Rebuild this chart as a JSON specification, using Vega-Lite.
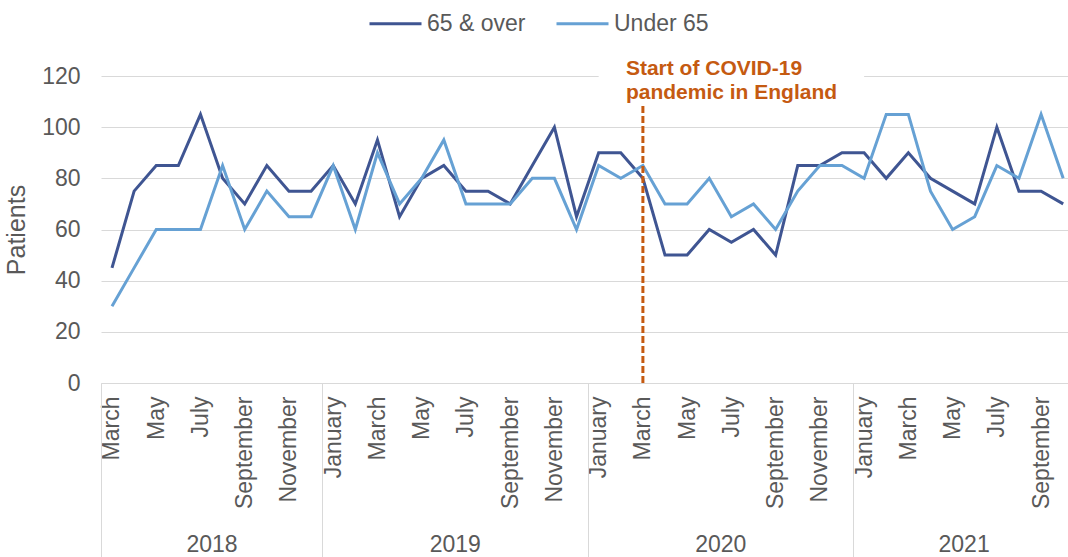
{
  "$schema": "https://vega.github.io/schema/vega-lite/v6.json",
  "width": 967,
  "height": 307,
  "autosize": {"type": "none"},
  "padding": {"left": 101, "top": 76, "right": 0, "bottom": 174},
  "background": "white",
  "config": {
    "font": "Liberation Sans",
    "view": {"stroke": null}
  },
  "data": {
    "values": [
      {"month": "2018-03", "series": "65 & over", "patients": 45},
      {"month": "2018-04", "series": "65 & over", "patients": 75},
      {"month": "2018-05", "series": "65 & over", "patients": 85},
      {"month": "2018-06", "series": "65 & over", "patients": 85},
      {"month": "2018-07", "series": "65 & over", "patients": 105},
      {"month": "2018-08", "series": "65 & over", "patients": 80},
      {"month": "2018-09", "series": "65 & over", "patients": 70},
      {"month": "2018-10", "series": "65 & over", "patients": 85},
      {"month": "2018-11", "series": "65 & over", "patients": 75},
      {"month": "2018-12", "series": "65 & over", "patients": 75},
      {"month": "2019-01", "series": "65 & over", "patients": 85},
      {"month": "2019-02", "series": "65 & over", "patients": 70},
      {"month": "2019-03", "series": "65 & over", "patients": 95},
      {"month": "2019-04", "series": "65 & over", "patients": 65},
      {"month": "2019-05", "series": "65 & over", "patients": 80},
      {"month": "2019-06", "series": "65 & over", "patients": 85},
      {"month": "2019-07", "series": "65 & over", "patients": 75},
      {"month": "2019-08", "series": "65 & over", "patients": 75},
      {"month": "2019-09", "series": "65 & over", "patients": 70},
      {"month": "2019-10", "series": "65 & over", "patients": 85},
      {"month": "2019-11", "series": "65 & over", "patients": 100},
      {"month": "2019-12", "series": "65 & over", "patients": 65},
      {"month": "2020-01", "series": "65 & over", "patients": 90},
      {"month": "2020-02", "series": "65 & over", "patients": 90},
      {"month": "2020-03", "series": "65 & over", "patients": 80},
      {"month": "2020-04", "series": "65 & over", "patients": 50},
      {"month": "2020-05", "series": "65 & over", "patients": 50},
      {"month": "2020-06", "series": "65 & over", "patients": 60},
      {"month": "2020-07", "series": "65 & over", "patients": 55},
      {"month": "2020-08", "series": "65 & over", "patients": 60},
      {"month": "2020-09", "series": "65 & over", "patients": 50},
      {"month": "2020-10", "series": "65 & over", "patients": 85},
      {"month": "2020-11", "series": "65 & over", "patients": 85},
      {"month": "2020-12", "series": "65 & over", "patients": 90},
      {"month": "2021-01", "series": "65 & over", "patients": 90},
      {"month": "2021-02", "series": "65 & over", "patients": 80},
      {"month": "2021-03", "series": "65 & over", "patients": 90},
      {"month": "2021-04", "series": "65 & over", "patients": 80},
      {"month": "2021-05", "series": "65 & over", "patients": 75},
      {"month": "2021-06", "series": "65 & over", "patients": 70},
      {"month": "2021-07", "series": "65 & over", "patients": 100},
      {"month": "2021-08", "series": "65 & over", "patients": 75},
      {"month": "2021-09", "series": "65 & over", "patients": 75},
      {"month": "2021-10", "series": "65 & over", "patients": 70},
      {"month": "2018-03", "series": "Under 65", "patients": 30},
      {"month": "2018-04", "series": "Under 65", "patients": 45},
      {"month": "2018-05", "series": "Under 65", "patients": 60},
      {"month": "2018-06", "series": "Under 65", "patients": 60},
      {"month": "2018-07", "series": "Under 65", "patients": 60},
      {"month": "2018-08", "series": "Under 65", "patients": 85},
      {"month": "2018-09", "series": "Under 65", "patients": 60},
      {"month": "2018-10", "series": "Under 65", "patients": 75},
      {"month": "2018-11", "series": "Under 65", "patients": 65},
      {"month": "2018-12", "series": "Under 65", "patients": 65},
      {"month": "2019-01", "series": "Under 65", "patients": 85},
      {"month": "2019-02", "series": "Under 65", "patients": 60},
      {"month": "2019-03", "series": "Under 65", "patients": 90},
      {"month": "2019-04", "series": "Under 65", "patients": 70},
      {"month": "2019-05", "series": "Under 65", "patients": 80},
      {"month": "2019-06", "series": "Under 65", "patients": 95},
      {"month": "2019-07", "series": "Under 65", "patients": 70},
      {"month": "2019-08", "series": "Under 65", "patients": 70},
      {"month": "2019-09", "series": "Under 65", "patients": 70},
      {"month": "2019-10", "series": "Under 65", "patients": 80},
      {"month": "2019-11", "series": "Under 65", "patients": 80},
      {"month": "2019-12", "series": "Under 65", "patients": 60},
      {"month": "2020-01", "series": "Under 65", "patients": 85},
      {"month": "2020-02", "series": "Under 65", "patients": 80},
      {"month": "2020-03", "series": "Under 65", "patients": 85},
      {"month": "2020-04", "series": "Under 65", "patients": 70},
      {"month": "2020-05", "series": "Under 65", "patients": 70},
      {"month": "2020-06", "series": "Under 65", "patients": 80},
      {"month": "2020-07", "series": "Under 65", "patients": 65},
      {"month": "2020-08", "series": "Under 65", "patients": 70},
      {"month": "2020-09", "series": "Under 65", "patients": 60},
      {"month": "2020-10", "series": "Under 65", "patients": 75},
      {"month": "2020-11", "series": "Under 65", "patients": 85},
      {"month": "2020-12", "series": "Under 65", "patients": 85},
      {"month": "2021-01", "series": "Under 65", "patients": 80},
      {"month": "2021-02", "series": "Under 65", "patients": 105},
      {"month": "2021-03", "series": "Under 65", "patients": 105},
      {"month": "2021-04", "series": "Under 65", "patients": 75},
      {"month": "2021-05", "series": "Under 65", "patients": 60},
      {"month": "2021-06", "series": "Under 65", "patients": 65},
      {"month": "2021-07", "series": "Under 65", "patients": 85},
      {"month": "2021-08", "series": "Under 65", "patients": 80},
      {"month": "2021-09", "series": "Under 65", "patients": 105},
      {"month": "2021-10", "series": "Under 65", "patients": 80}
    ]
  },
  "layer": [
    {
      "mark": {"type": "line", "strokeWidth": 3},
      "encoding": {
        "x": {
          "field": "month",
          "type": "ordinal",
          "scale": {"type": "point", "padding": 0.357, "align": 0.696},
          "axis": {
            "orient": "bottom",
            "title": null,
            "labelAngle": 270,
            "labelExpr": "indexof(['01','03','05','07','09','11'], substring(datum.value, 5, 7)) >= 0 ? ['January','February','March','April','May','June','July','August','September','October','November','December'][toNumber(substring(datum.value, 5, 7)) - 1] : ''",
            "labelFontSize": 23,
            "labelColor": "#595959",
            "labelPadding": 13,
            "labelOverlap": false,
            "labelBound": false,
            "labelFlush": false,
            "ticks": false,
            "tickSize": 0,
            "domain": true,
            "domainColor": "#d9d9d9",
            "domainWidth": 1,
            "grid": false
          }
        },
        "y": {
          "field": "patients",
          "type": "quantitative",
          "scale": {"domain": [0, 120]},
          "axis": {
            "title": "Patients",
            "values": [0, 20, 40, 60, 80, 100, 120],
            "grid": true,
            "gridColor": "#d9d9d9",
            "gridWidth": 1,
            "domain": false,
            "ticks": false,
            "tickSize": 0,
            "labelFontSize": 23,
            "labelColor": "#595959",
            "labelPadding": 21,
            "titleFontSize": 25,
            "titleFontWeight": "normal",
            "titleColor": "#595959",
            "titlePadding": 12
          }
        },
        "color": {
          "field": "series",
          "type": "nominal",
          "scale": {"domain": ["65 & over", "Under 65"], "range": ["#3F5592", "#66A1D4"]},
          "legend": {
            "orient": "none",
            "legendX": 267,
            "legendY": -80,
            "direction": "horizontal",
            "title": null,
            "symbolType": "stroke",
            "symbolSize": 2704,
            "symbolStrokeWidth": 3,
            "labelFontSize": 23,
            "labelColor": "#595959",
            "labelOffset": 4,
            "columnPadding": 24
          }
        }
      }
    },
    {
      "data": {"values": [{}]},
      "mark": {"type": "rect", "color": "white"},
      "encoding": {
        "x": {
          "datum": "2020-01",
          "type": "ordinal",
          "axis": {
            "orient": "bottom",
            "title": null,
            "values": ["2018-03", "2019-01", "2020-01", "2021-01"],
            "tickOffset": -11.06,
            "tickSize": 174,
            "tickColor": "#d9d9d9",
            "tickWidth": 1,
            "labels": false,
            "domain": false,
            "grid": false
          }
        },
        "x2": {"datum": "2021-01"},
        "y": {"datum": 109},
        "y2": {"datum": 129}
      }
    },
    {
      "data": {"values": [{}]},
      "mark": {"type": "rule", "color": "#C55A11", "strokeWidth": 3, "strokeDash": [7, 3]},
      "encoding": {
        "x": {
          "datum": "2020-03",
          "type": "ordinal",
          "axis": {
            "orient": "bottom",
            "title": null,
            "values": ["2018-07", "2019-06", "2020-06", "2021-05"],
            "labelExpr": "substring(datum.value, 0, 4)",
            "labelAngle": 0,
            "labelOffset": 11,
            "labelPadding": 150,
            "labelFontSize": 23,
            "labelColor": "#595959",
            "labelOverlap": false,
            "labelBound": false,
            "labelFlush": false,
            "ticks": false,
            "tickSize": 0,
            "domain": false,
            "grid": false
          }
        },
        "y": {"datum": 0},
        "y2": {"datum": 108.5}
      }
    },
    {
      "data": {"values": [{}]},
      "mark": {
        "type": "text",
        "align": "left",
        "baseline": "alphabetic",
        "dx": -17,
        "fontSize": 21,
        "fontWeight": "bold",
        "color": "#C55A11",
        "lineHeight": 24
      },
      "encoding": {
        "x": {"datum": "2020-03", "type": "ordinal", "axis": null},
        "y": {"datum": 120.5},
        "text": {"value": ["Start of COVID-19", "pandemic in England"]}
      }
    }
  ],
  "resolve": {"axis": {"x": "independent"}}
}
